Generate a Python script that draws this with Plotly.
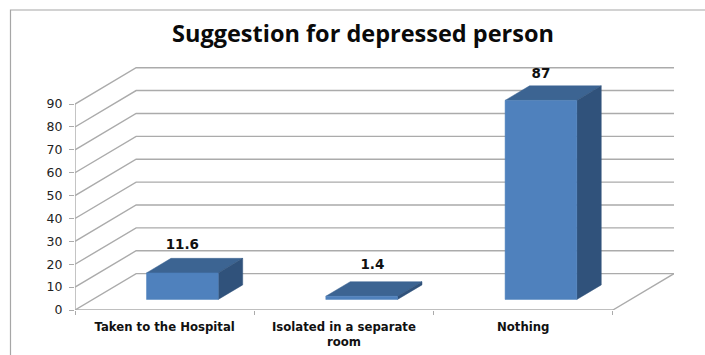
import plotly.graph_objects as go

# Chart data
categories = ["Taken to the Hospital", "Isolated in a separate<br>room", "Nothing"]
values = [11.6, 1.4, 87]
value_labels = ["11.6", "1.4", "87"]
y_ticks = [0, 10, 20, 30, 40, 50, 60, 70, 80, 90]
title_text = "Suggestion for depressed person"

# Oblique projection: the walls sit behind the floor's front edge by this offset
WALL_DX = 0.341   # category units
WALL_DY = 15.9    # value units
BAR_NEAR = 0.29   # depth fraction of the bar's front face
BAR_DEPTH = 0.40  # depth fraction taken up by the bar
BAR_WIDTH = 0.40  # category units

# Per-bar nudges for the value labels (category units, value units)
LABEL_DX = (0.0, 0.06, 0.0)
LABEL_DY = (2.6, 4.2, 1.8)

GRID = "#ABABAB"
FRONT = "#4F81BD"
TOP = "#3C6492"
SIDE = "#30527B"


def project(x, y, depth):
    return x + WALL_DX * depth, y + WALL_DY * depth


def polygon(points, color):
    xs, ys = zip(*points)
    return go.Scatter(
        x=list(xs) + [xs[0]], y=list(ys) + [ys[0]], mode="lines", fill="toself",
        fillcolor=color, line=dict(color=color, width=0.5), hoverinfo="skip",
    )


def line(xs, ys, width=1.4):
    return go.Scatter(x=xs, y=ys, mode="lines", line=dict(color=GRID, width=width),
                      hoverinfo="skip")


fig = go.Figure()
n = len(categories)

# Side wall and back wall gridlines
for t in y_ticks:
    x1, y1 = project(0, t, 1)
    x2, y2 = project(n, t, 1)
    fig.add_trace(line([0, x1, x2], [t, y1, y2]))

# Floor front edge, right edge and the vertical axis line
x_end, y_end = project(n, 0, 1)
fig.add_trace(line([0, n, x_end], [0, 0, y_end]))
fig.add_trace(line([0, 0], [0, y_ticks[-1]]))

# Extruded bars
label_x, label_y = [], []
for i, v in enumerate(values):
    left = i + 0.5 - BAR_WIDTH / 2
    right = i + 0.5 + BAR_WIDTH / 2
    near, far = BAR_NEAR, BAR_NEAR + BAR_DEPTH
    fig.add_trace(polygon([project(left, v, near), project(right, v, near),
                           project(right, v, far), project(left, v, far)], TOP))
    fig.add_trace(polygon([project(right, 0, near), project(right, 0, far),
                           project(right, v, far), project(right, v, near)], SIDE))
    fig.add_trace(polygon([project(left, 0, near), project(right, 0, near),
                           project(right, v, near), project(left, v, near)], FRONT))
    cx, _ = project(i + 0.5, v, near)
    _, top = project(i + 0.5, v, far)
    label_x.append(cx + LABEL_DX[i])
    label_y.append(top + LABEL_DY[i])

fig.add_trace(go.Scatter(
    x=label_x, y=label_y, text=value_labels, mode="text", textposition="top center",
    textfont=dict(family="DejaVu Sans", size=13.5, color="#111111", weight="bold"),
    cliponaxis=False, hoverinfo="skip",
))

fig.update_layout(
    width=705, height=355, autosize=False, showlegend=False,
    paper_bgcolor="white", plot_bgcolor="white",
    margin=dict(l=75, r=31, t=67, b=45, autoexpand=False),
    title=dict(text=title_text, x=363 / 705, xanchor="center", y=1 - 34 / 355, yanchor="middle",
               font=dict(family="Open Sans", size=23.5, color="#0a0a0a", weight="bold")),
    xaxis=dict(
        range=[0, n + WALL_DX], showgrid=False, zeroline=False, showline=False,
        automargin=False,
        tickmode="array", tickvals=[i + 0.5 for i in range(n)], ticktext=categories,
        ticks="", tickangle=0, ticklabelstandoff=8,
        tickfont=dict(family="DejaVu Sans", size=11.7, color="#111111", weight="bold"),
        minor=dict(tickmode="array", tickvals=list(range(n + 1)), ticks="outside",
                   ticklen=4, tickcolor=GRID, showgrid=False),
    ),
    yaxis=dict(
        range=[0, y_ticks[-1] + WALL_DY + 0.3], showgrid=False, zeroline=False, showline=False,
        automargin=False,
        tickmode="array", tickvals=y_ticks, ticks="outside", ticklen=5, tickcolor=GRID,
        ticklabelstandoff=4,
        tickfont=dict(family="DejaVu Sans", size=12.5, color="#222222"),
    ),
    # Outer chart frame
    shapes=[dict(type="path", xref="paper", yref="paper", layer="below",
                 path="M -0.1077 -0.19 L -0.1077 1.2346 L 1.2 1.2346",
                 line=dict(color="#A6A6A6", width=1.2))],
)

fig.write_html("out.html")
